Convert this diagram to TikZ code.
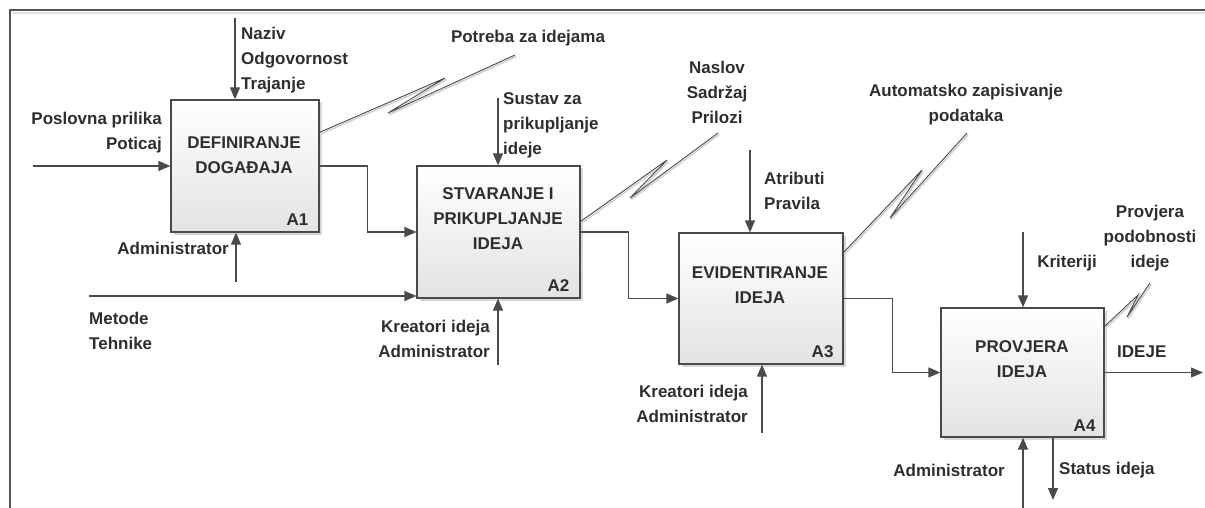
\documentclass[tikz,border=0pt]{standalone}
\usepackage{fontspec}
\setmainfont{Liberation Sans}
\usetikzlibrary{arrows.meta,shadows}
\definecolor{ln}{HTML}{4A4A4A}
\definecolor{tx}{HTML}{2E2E2E}
\definecolor{frm}{HTML}{555555}
\tikzset{
  box/.style={draw=ln, line width=1.3pt, inner sep=0pt, top color=white, bottom color=black!11,
    drop shadow={shadow xshift=2.5pt, shadow yshift=-2.5pt, fill=black!30, opacity=0.5}},
  arr/.style={draw=ln, line width=1.3pt, -{Triangle[length=12pt,width=10pt]}},
  lbl/.style={font=\fontsize{17}{25}\selectfont\bfseries, text=tx, inner sep=0pt},
  tun/.style={draw=ln, line width=0.9pt},
  tunshadow/.style={draw=black!18, line width=1.6pt},
}
\begin{document}
\begin{tikzpicture}[x=1pt,y=-1pt]
\useasboundingbox (0,0) rectangle (1205,508);
% frame
\draw[black!12, line width=2pt] (1205,13) -- (12,13);
\draw[frm, line width=1.5pt] (1205,10) -- (10,10) -- (10,508);

% boxes
\node[box, minimum width=148pt, minimum height=132pt] (A1) at (245,166) {};
\node[box, minimum width=163pt, minimum height=132pt] (A2) at (498.5,232) {};
\node[box, minimum width=164pt, minimum height=131pt] (A3) at (761,298.5) {};
\node[box, minimum width=163pt, minimum height=129pt] (A4) at (1022.5,372.5) {};

% titles
\node[lbl, align=center] (t1) at (244,155) {DEFINIRANJE\\DOGAĐAJA};
\node[lbl, align=center] (t2) at (498,219) {STVARANJE I\\PRIKUPLJANJE\\IDEJA};
\node[lbl, align=center] (t3) at (760,285.5) {EVIDENTIRANJE\\IDEJA};
\node[lbl, align=center] (t4) at (1022,359.5) {PROVJERA\\IDEJA};

% box numbers
\node[lbl, anchor=south east] (n1) at ([xshift=-11pt,yshift=7pt]A1.south east) {A1};
\node[lbl, anchor=south east] (n2) at ([xshift=-11pt,yshift=7pt]A2.south east) {A2};
\node[lbl, anchor=south east] (n3) at ([xshift=-10pt,yshift=7pt]A3.south east) {A3};
\node[lbl, anchor=south east] (n4) at ([xshift=-9pt,yshift=6pt]A4.south east) {A4};

% free ends
\coordinate (i1) at (33,166);
\coordinate (c1) at (235,18);
\coordinate (m1) at (236,282);
\coordinate (met) at (89,296);
\coordinate (c2) at (498,98);
\coordinate (m2) at (498,365);
\coordinate (c3) at (750,150);
\coordinate (m3) at (762,433);
\coordinate (c4) at (1023,232);
\coordinate (m4) at (1023,512);
\coordinate (st) at (1053,500);
\coordinate (out) at (1203,372.5);

% connectors
\draw[arr] (i1) -- (A1.west);
\draw[arr] (c1) -- (c1 |- A1.north);
\draw[arr] (m1) -- (m1 |- A1.south);
\draw[arr] (A1.east) -- ++(48,0) |- (A2.west);
\draw[arr] (met) -- (met -| A2.west);
\draw[arr] (c2) -- (c2 |- A2.north);
\draw[arr] (m2) -- (m2 |- A2.south);
\draw[arr] (A2.east) -- ++(48,0) |- (A3.west);
\draw[arr] (c3) -- (c3 |- A3.north);
\draw[arr] (m3) -- (m3 |- A3.south);
\draw[arr] (A3.east) -- ++(49,0) |- (A4.west);
\draw[arr] (c4) -- (c4 |- A4.north);
\draw[arr] (m4) -- (m4 |- A4.south);
\draw[arr] (st |- A4.south) -- (st);
\draw[arr] (A4.east) -- (out);

% tunnel (squiggle) lines
\coordinate (s1) at ([yshift=-33pt]A1.north east);
\coordinate (p1a) at (445,78);
\coordinate (p1b) at (388,113);
\coordinate (e1) at (515,55);
\coordinate (s2) at ([yshift=-56pt]A2.north east);
\coordinate (p2a) at (667,160);
\coordinate (p2b) at (630,198);
\coordinate (e2) at (718,133);
\coordinate (s3) at ([yshift=-20pt]A3.north east);
\coordinate (p3a) at (922,170);
\coordinate (p3b) at (890,218);
\coordinate (e3) at (967,133);
\coordinate (s4) at ([yshift=-19pt]A4.north east);
\coordinate (p4a) at (1138,295);
\coordinate (p4b) at (1127,317);
\coordinate (e4) at (1150,283);
\foreach \s/\a/\b/\e in {s1/p1a/p1b/e1, s2/p2a/p2b/e2, s3/p3a/p3b/e3, s4/p4a/p4b/e4}{
  \draw[tunshadow] ([xshift=1.2pt,yshift=-1.5pt]\s) -- ([xshift=1.2pt,yshift=-1.5pt]\a) -- ([xshift=1.2pt,yshift=-1.5pt]\b) -- ([xshift=1.2pt,yshift=-1.5pt]\e);
  \draw[tun] (\s) -- (\a) -- (\b) -- (\e);
}

% labels
\node[lbl, align=right, anchor=east] (l1) at (162,132.5) {Poslovna prilika\\Poticaj};
\node[lbl, align=left, anchor=west] (l2) at (241,60) {Naziv\\Odgovornost\\Trajanje};
\node[lbl, anchor=east] (l3) at (229,248) {Administrator};
\node[lbl] (l4) at (528,38) {Potreba za idejama};
\node[lbl, align=left, anchor=west] (l5) at (503,125) {Sustav za\\prikupljanje\\ideje};
\node[lbl, align=left, anchor=west] (l6) at (89,330.5) {Metode\\Tehnike};
\node[lbl, align=right, anchor=east] (l7) at (490,339) {Kreatori ideja\\Administrator};
\node[lbl, align=center] (l8) at (717,92) {Naslov\\Sadržaj\\Prilozi};
\node[lbl, align=left, anchor=west] (l9) at (764,190.5) {Atributi\\Pravila};
\node[lbl, align=right, anchor=east] (l10) at (748,403.5) {Kreatori ideja\\Administrator};
\node[lbl, align=center] (l11) at (966,104.5) {Automatsko zapisivanje\\podataka};
\node[lbl] (l12) at (1067,263) {Kriteriji};
\node[lbl, align=center] (l13) at (1150,238) {Provjera\\podobnosti\\ideje};
\node[lbl, anchor=west] (l14) at (1117,352) {IDEJE};
\node[lbl, anchor=east] (l15) at (1005,470) {Administrator};
\node[lbl, anchor=west] (l16) at (1059,470) {Status ideja};
\end{tikzpicture}
\end{document}
